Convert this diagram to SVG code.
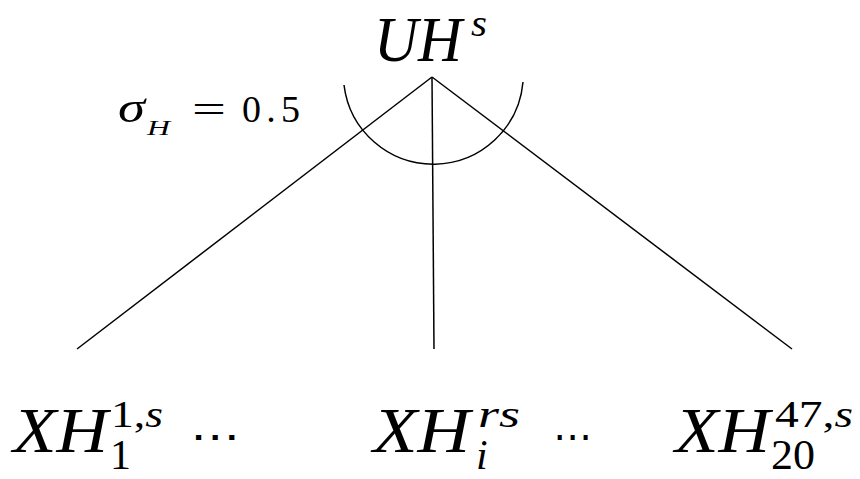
<svg xmlns="http://www.w3.org/2000/svg" width="860" height="479" viewBox="0 0 860 479">
<style>
.t{font-family:"Liberation Serif","DejaVu Serif",serif;fill:#000}
.i{font-style:italic}
.dots{font-family:"DejaVu Sans","Liberation Sans",sans-serif;fill:#000}
.c{fill:none;stroke:#000;stroke-width:1.5}
</style>
<rect width="860" height="479" fill="#fff"/>
<g id="connectors">
<line class="c" x1="432" y1="77" x2="77" y2="349"/>
<line class="c" x1="432" y1="77" x2="434" y2="349"/>
<line class="c" x1="432" y1="77" x2="792" y2="349"/>
<path class="c" d="M344,85 A90,90 0 0 0 523,82"/>
</g>
<g id="root">
<text class="t i" x="374" y="61" font-size="64" textLength="88" lengthAdjust="spacingAndGlyphs">UH</text>
<text class="t i" x="471" y="36" font-size="38" textLength="16" lengthAdjust="spacingAndGlyphs">s</text>
</g>
<g id="sigma">
<text class="t i" x="118" y="122" font-size="44" textLength="27" lengthAdjust="spacingAndGlyphs">σ</text>
<text class="t i" x="147" y="135" font-size="22" textLength="23" lengthAdjust="spacingAndGlyphs">H</text>
<text class="t" x="192" y="122" font-size="38" textLength="34" lengthAdjust="spacingAndGlyphs">=</text>
<text class="t" x="242" y="122" font-size="38" textLength="58">0.5</text>
</g>
<g id="leaf1">
<text class="t i" x="13" y="452" font-size="63" textLength="95" lengthAdjust="spacingAndGlyphs">XH</text>
<text class="t" x="111" y="427" font-size="38" textLength="52" lengthAdjust="spacingAndGlyphs"><tspan>1,</tspan><tspan class="i">s</tspan></text>
<text class="t" x="110" y="469" font-size="42">1</text>
<text class="dots" x="190" y="450" font-size="40" textLength="50" lengthAdjust="spacingAndGlyphs">⋯</text>
</g>
<g id="leafi">
<text class="t i" x="373" y="452" font-size="63" textLength="97" lengthAdjust="spacingAndGlyphs">XH</text>
<text class="t i" x="478" y="427" font-size="38" textLength="42" lengthAdjust="spacingAndGlyphs">rs</text>
<text class="t i" x="476" y="469" font-size="42">i</text>
<text class="dots" x="553" y="450" font-size="40" textLength="39" lengthAdjust="spacingAndGlyphs">⋯</text>
</g>
<g id="leaf47">
<text class="t i" x="675" y="452" font-size="63" textLength="95" lengthAdjust="spacingAndGlyphs">XH</text>
<text class="t" x="775" y="427" font-size="38" textLength="78" lengthAdjust="spacingAndGlyphs"><tspan>47,</tspan><tspan class="i">s</tspan></text>
<text class="t" x="771" y="469" font-size="42" textLength="44" lengthAdjust="spacingAndGlyphs">20</text>
</g>
</svg>
